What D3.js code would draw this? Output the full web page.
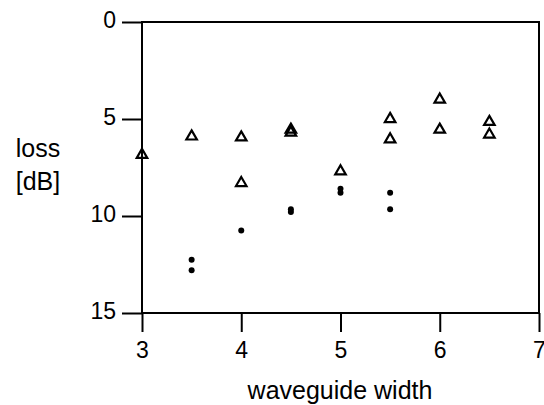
<!DOCTYPE html>
<html>
<head>
<meta charset="utf-8">
<script src="https://cdn.jsdelivr.net/npm/d3@7"></script>
<style>
  body { margin: 0; background: #fff; }
  svg { display: block; font-family: "Liberation Sans", Arial, sans-serif; }
</style>
</head>
<body>
<svg id="chart" width="544" height="405"></svg>
<script>
// open triangles
const triX = [3, 3.5, 4, 4, 4.5, 4.5, 5, 5.5, 5.5, 6, 6, 6.5, 6.5];
const triY = [6.85, 5.9, 5.95, 8.3, 5.55, 5.7, 7.7, 5.0, 6.05, 4.0, 5.55, 5.15, 5.8];
// filled dots
const dotX = [3.5, 3.5, 4, 4.5, 4.5, 5, 5, 5.5, 5.5];
const dotY = [12.25, 12.8, 10.75, 9.65, 9.8, 8.6, 8.8, 8.8, 9.65];

const xTicks = [3, 4, 5, 6, 7],
  yTicks = [0, 5, 10, 15];

const svg = d3.select("#chart");

const x = d3.scaleLinear().domain([3, 7]).range([142, 539]);
const y = d3.scaleLinear().domain([0, 15]).range([22, 313]);

//frame
svg.append("rect")
  .attr("x", x(3)).attr("y", y(0))
  .attr("width", x(7) - x(3)).attr("height", y(15) - y(0))
  .attr("fill", "none").attr("stroke", "#000").attr("stroke-width", 2);

const yAxis = svg.append("g")
  .attr("transform", `translate(${x(3)},0)`)
  .call(d3.axisLeft(y).tickValues(yTicks).tickSize(20).tickPadding(6).tickFormat(d3.format("d")));

const xAxis = svg.append("g")
  .attr("transform", `translate(0,${y(15)})`)
  .call(d3.axisBottom(x).tickValues(xTicks).tickSize(19).tickPadding(10).tickFormat(d3.format("d")));

[xAxis, yAxis].forEach(function(a) {
  a.select(".domain").remove();
  a.selectAll(".tick line").attr("stroke", "#000").attr("stroke-width", 2);
  a.selectAll(".tick text")
    .attr("fill", "#000")
    .style("font-size", "23px")
    .style("font-family", "Liberation Sans, Arial, sans-serif");
});
yAxis.selectAll(".tick text").attr("dy", "0.25em");

// axis titles
svg.append("text")
  .attr("x", 340).attr("y", 399)
  .attr("text-anchor", "middle")
  .style("font-size", "25px")
  .text("waveguide width");

const yt = svg.append("text")
  .attr("text-anchor", "middle")
  .style("font-size", "25px");
yt.append("tspan").attr("x", 38).attr("y", 157).text("loss");
yt.append("tspan").attr("x", 38).attr("y", 190).text("[dB]");

//triangles
const tri = d3.symbol().type(d3.symbolTriangle).size(48);
svg.append("g").selectAll("path")
  .data(d3.range(triX.length)).enter()
  .append("path")
  .attr("d", tri)
  .attr("transform", function(i) { return `translate(${x(triX[i])},${y(triY[i])})`; })
  .attr("fill", "none")
  .attr("stroke", "#000")
  .attr("stroke-width", 2.2);

//dots
svg.append("g").selectAll("circle")
  .data(d3.range(dotX.length)).enter()
  .append("circle")
  .attr("cx", function(i) { return x(dotX[i]); })
  .attr("cy", function(i) { return y(dotY[i]); })
  .attr("r", 3)
  .attr("fill", "#000");
</script>
</body>
</html>
